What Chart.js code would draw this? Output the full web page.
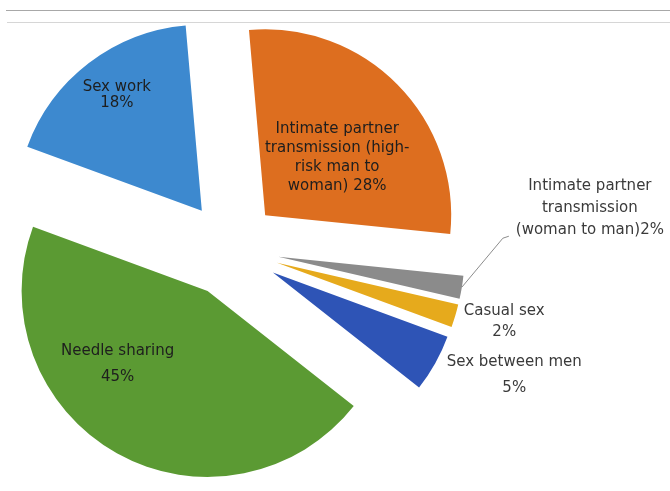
<!DOCTYPE html>
<html>
<head>
<meta charset="utf-8">
<script src="https://cdn.jsdelivr.net/npm/chart.js@4.4.1/dist/chart.umd.min.js"></script>
<style>
  html, body { margin: 0; padding: 0; background: #fff; }
  #wrap { position: relative; width: 670px; height: 491px; overflow: hidden; }
  .linea1 { position: absolute; left: 6px; right: 0; top: 10px; height: 1px; background: #a8a8a8; }
  .linea2 { position: absolute; left: 7px; right: 0; top: 22px; height: 1px; background: #d6d6d6; }
  canvas { position: absolute; left: 0; top: 0; }
</style>
</head>
<body>
<div id="wrap">
  <div class="linea1"></div>
  <div class="linea2"></div>
  <canvas id="grafico" width="670" height="491"></canvas>
</div>
<script>
// datos
const categorias = [
  "Intimate partner transmission (high-risk man to woman)",
  "Intimate partner transmission (woman to man)",
  "Casual sex",
  "Sex between men",
  "Needle sharing",
  "Sex work"
];
const porcentajes = [28, 2, 2, 5, 45, 18];
const etiquetas = [
  ["Intimate partner", "transmission (high-", "risk man to", "woman) 28%"],
  ["Intimate partner", "transmission", "(woman to man)2%"],
  ["Casual sex", "2%"],
  ["Sex between men", "5%"],
  ["Needle sharing", "45%"],
  ["Sex work", "18%"]
];

const colores = ["#dd6e1f", "#8b8b8b", "#e6aa1c", "#2e54b6", "#5b9a33", "#3d89cf"];

// donde va cada texto: dentro (desde el vertice) o fuera (desde el borde)
const dentro = [true, false, false, false, true, true];
const desplaz = [[72, -58], [128, -79], [49, 6], [79, 12], [-90, 73], [-85, -116]];
const interlinea = [19, 22, 21, 26, 26, 16];

// separar las porciones desplazando todo el sector (sin recortar el angulo)
const Arco = (Chart.elements && Chart.elements.ArcElement) || Chart.registry.getElement("arc");
const dibujarOriginal = Arco.prototype.draw;
Arco.prototype.draw = function (ctx) {
  const d = this.options.offset || 0;
  const medio = (this.startAngle + this.endAngle) / 2;
  const opts = this.options;
  ctx.save();
  ctx.translate(Math.cos(medio) * d, Math.sin(medio) * d);
  this.options = Object.assign({}, opts, { offset: 0 });
  dibujarOriginal.call(this, ctx);
  this.options = opts;
  ctx.restore();
};

const textos = {
  id: "textos",
  afterDatasetsDraw(chart) {
    const ctx = chart.ctx;
    const arcos = chart.getDatasetMeta(0).data;
    ctx.save();
    ctx.font = "15px 'DejaVu Sans'";
    ctx.textAlign = "center";
    ctx.textBaseline = "middle";
    arcos.forEach((arco, i) => {
      const medio = (arco.startAngle + arco.endAngle) / 2;
      const d = arco.options.offset || 0;
      const vx = arco.x + Math.cos(medio) * d;
      const vy = arco.y + Math.sin(medio) * d;
      let bx = vx, by = vy;
      if (!dentro[i]) {
        bx = vx + Math.cos(medio) * arco.outerRadius;
        by = vy + Math.sin(medio) * arco.outerRadius;
      }
      const cx = bx + desplaz[i][0];
      const cy = by + desplaz[i][1];
      const lineas = etiquetas[i];
      const lh = interlinea[i];
      if (i === 1) {
        ctx.strokeStyle = "#8c8c8c";
        ctx.lineWidth = 1;
        ctx.beginPath();
        ctx.moveTo(bx, by);
        ctx.lineTo(bx + 41, by - 49);
        ctx.lineTo(bx + 47, by - 51);
        ctx.stroke();
      }
      ctx.fillStyle = dentro[i] ? "#1e1e1e" : "#3a3a3a";
      const y0 = cy - (lineas.length - 1) * lh / 2;
      lineas.forEach((t, k) => ctx.fillText(t, cx, y0 + k * lh));
    });
    ctx.restore();
  }
};

new Chart(document.getElementById("grafico"), {
  type: "pie",
  data: {
    labels: categorias,
    datasets: [{
      data: porcentajes,
      backgroundColor: colores,
      borderWidth: 0,
      offset: 48,
      hoverOffset: 0
    }]
  },
  options: {
    responsive: false,
    devicePixelRatio: 1,
    animation: false,
    rotation: -5,
    radius: 186,
    layout: { padding: { left: 0, right: 208, top: 7, bottom: 0 } },
    plugins: {
      legend: { display: false },
      tooltip: { enabled: false }
    }
  },
  plugins: [textos]
});
</script>
</body>
</html>
